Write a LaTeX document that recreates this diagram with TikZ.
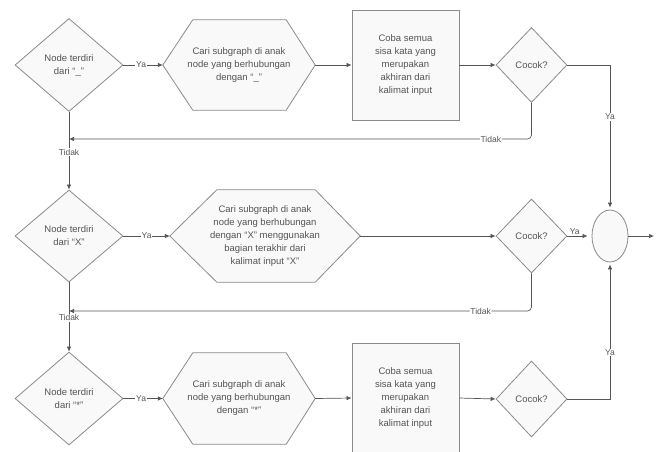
\documentclass[tikz,border=0pt]{standalone}
\usepackage{fontspec}
\setmainfont{Liberation Sans}
\usetikzlibrary{shapes.geometric,arrows.meta,backgrounds,calc}
\definecolor{shapeline}{HTML}{8A8A8A}
\definecolor{shapefill}{HTML}{F9F9F9}
\definecolor{conn}{HTML}{555555}
\definecolor{txt}{HTML}{555555}
\begin{document}
\begin{tikzpicture}[x=1pt,y=-1pt,
  every node/.style={text=txt},
  body/.style={font=\fontsize{9.5}{13}\selectfont, align=center},
  dec/.style={diamond, draw=shapeline, fill=shapefill, line width=0.8pt, inner sep=0pt, body},
  hexbox/.style={rectangle, inner sep=0pt, body},
  hexline/.style={draw=shapeline, fill=shapefill, line width=0.8pt},
  procbox/.style={rectangle, draw=shapeline, fill=shapefill, line width=0.8pt, inner sep=0pt, body},
  endcirc/.style={ellipse, draw=shapeline, fill=shapefill, line width=0.8pt, inner sep=0pt},
  conline/.style={draw=conn, line width=0.7pt, -{Latex[length=5pt,width=4.5pt]}},
  lbl/.style={font=\fontsize{8.5}{10}\selectfont, fill=white, inner sep=0.8pt}]
\useasboundingbox (0,0) rectangle (664,451);

% row 1
\node[dec, minimum width=108pt, minimum height=93pt] (D1) at (69,65) {Node terdiri\\dari “\_”};
\node[hexbox, minimum width=152pt, minimum height=90pt] (H1) at (239,65) {Cari subgraph di anak\\node yang berhubungan\\dengan “\_”};
\node[procbox, minimum width=107pt, minimum height=110pt] (B1) at (405.5,65) {Coba semua\\sisa kata yang\\merupakan\\akhiran dari\\kalimat input};
\node[dec, minimum width=71pt, minimum height=75pt] (C1) at (531.5,65) {Cocok?};

% row 2
\node[dec, minimum width=108pt, minimum height=92pt] (D2) at (69,236) {Node terdiri\\dari “X”};
\node[hexbox, minimum width=190pt, minimum height=92pt] (H2) at (265,236) {Cari subgraph di anak\\node yang berhubungan\\dengan “X” menggunakan\\bagian terakhir dari\\kalimat input “X”};
\node[dec, minimum width=71pt, minimum height=74pt] (C2) at (531.5,236) {Cocok?};
\node[endcirc, minimum width=36pt, minimum height=52pt] (E) at (610,236) {};

% row 3
\node[dec, minimum width=108pt, minimum height=93pt] (D3) at (69,398.5) {Node terdiri\\dari “*”};
\node[hexbox, minimum width=152pt, minimum height=91pt] (H3) at (239,398.5) {Cari subgraph di anak\\node yang berhubungan\\dengan “*”};
\node[procbox, minimum width=107pt, minimum height=110pt] (B3) at (405.5,398) {Coba semua\\sisa kata yang\\merupakan\\akhiran dari\\kalimat input};
\node[dec, minimum width=71pt, minimum height=76pt] (C3) at (531.5,399) {Cocok?};

% hexagon outlines
\begin{scope}[on background layer]
\path[hexline] (H1.west) -- ([xshift=30pt]H1.north west) -- ([xshift=-29pt]H1.north east) -- (H1.east) -- ([xshift=-29pt]H1.south east) -- ([xshift=30pt]H1.south west) -- cycle;
\path[hexline] (H2.west) -- ([xshift=47pt]H2.north west) -- ([xshift=-45pt]H2.north east) -- (H2.east) -- ([xshift=-45pt]H2.south east) -- ([xshift=47pt]H2.south west) -- cycle;
\path[hexline] (H3.west) -- ([xshift=30pt]H3.north west) -- ([xshift=-29pt]H3.north east) -- (H3.east) -- ([xshift=-29pt]H3.south east) -- ([xshift=30pt]H3.south west) -- cycle;
\end{scope}

\coordinate (J1) at (69,139);
\coordinate (J2) at (69,311);
\coordinate (OUT) at (654,236);

% connectors row 1
\draw[conline] (D1.east) -- node[lbl, pos=0.45]{Ya} (H1.west);
\draw[conline] (H1.east) -- (B1.west);
\draw[conline] (B1.east) -- (C1.west);
\draw[conline, shorten >=2pt] (C1.east) -| node[lbl, pos=0.68]{Ya} (E.north);
\draw[conline, rounded corners=4pt] (C1.south) |- node[lbl, pos=0.544]{Tidak} (J1);
\draw[conline] (D1.south) -- node[lbl, pos=0.52]{Tidak} (D2.north);

% row 2
\draw[conline] (D2.east) -- node[lbl, pos=0.5]{Ya} (H2.west);
\draw[conline] (H2.east) -- (C2.west);
\draw[conline, shorten >=4pt] (C2.east) -- node[lbl, above, fill=none, pos=0.3, inner sep=1pt]{Ya} (E.west);
\draw[conline, rounded corners=4pt] (C2.south) |- node[lbl, pos=0.555]{Tidak} (J2);
\draw[conline] (D2.south) -- node[lbl, pos=0.51]{Tidak} (D3.north);
\draw[conline] (E.east) -- (OUT);

% row 3
\draw[conline] (D3.east) -- node[lbl, pos=0.45]{Ya} (H3.west);
\draw[conline] (H3.east) -- (B3.west);
\draw[conline] (B3.east) -- (C3.west);
\draw[conline, shorten >=2pt] (C3.east) -| node[lbl, pos=0.67]{Ya} (E.south);
\end{tikzpicture}
\end{document}
